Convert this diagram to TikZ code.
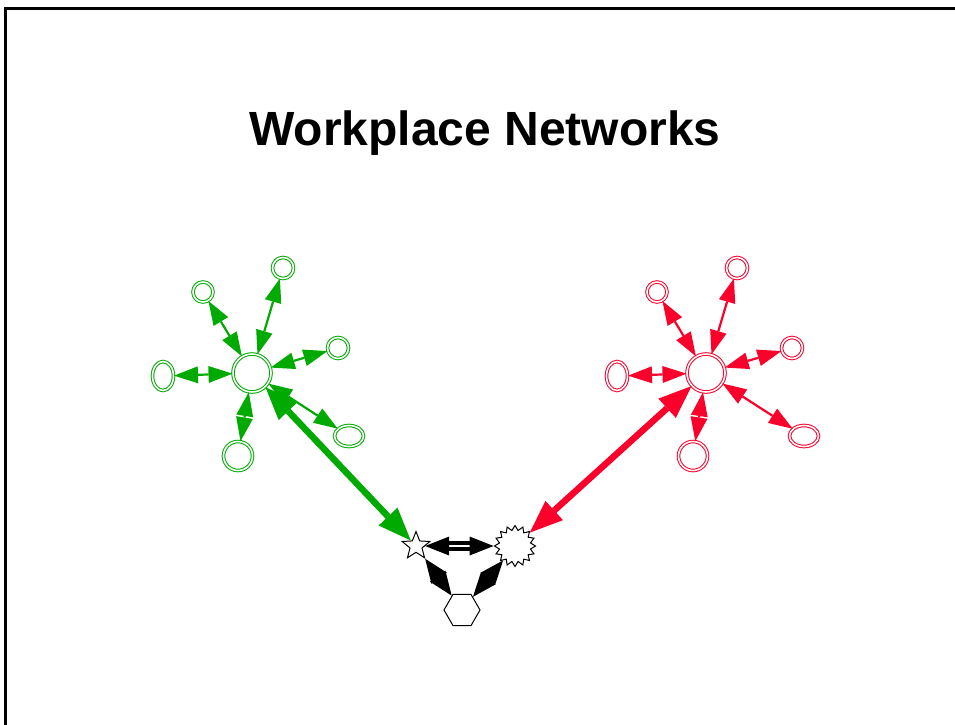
\documentclass[tikz,border=0pt]{standalone}
\usepackage{fontspec}
\newfontfamily\titlefont{Liberation Sans}
\usetikzlibrary{calc,shapes.geometric}
\definecolor{gr}{RGB}{0,170,0}
\definecolor{rd}{RGB}{250,0,42}
\tikzset{
  sat/.style={draw=#1, double=white, double distance=1.6pt, line width=1pt, fill=white, inner sep=0pt},
  satc/.style={sat=#1, circle},
  sate/.style={sat=#1, ellipse},
  blknode/.style={draw=black, line width=1pt, fill=white, inner sep=0pt}
}
% double-headed connector from node #2 to node #3: colour #4, head length #5, head half width #6, line options #1
\newcommand\myedge[6][]{%
  \path (#2) -- coordinate[pos=0] (ea) coordinate[pos=1] (eb) (#3);
  \path let \p1=($(eb)-(ea)$), \n1={min(#5,0.5*veclen(\x1,\y1)+1.5pt)} in
    coordinate (ba) at ($(ea)!\n1!(eb)$)
    coordinate (bb) at ($(eb)!\n1!(ea)$);
  \draw[#4, #1] (ba) -- (bb);
  \fill[#4] (ea) -- ($(ba)!#6!90:(ea)$) -- ($(ba)!#6!-90:(ea)$) -- cycle;
  \fill[#4] (eb) -- ($(bb)!#6!90:(eb)$) -- ($(bb)!#6!-90:(eb)$) -- cycle;
}
\begin{document}
\begin{tikzpicture}[x=1pt,y=-1pt]
\useasboundingbox (0,0) rectangle (955,724);
% frame
\draw[line width=3pt] (5,726) -- (5,8) -- (958,8);
% title
\node[anchor=base, font=\titlefont\bfseries\fontsize{48}{56}\selectfont] (title) at (485,145) {Workplace Networks};

% green cluster
\node[satc=gr, minimum size=38pt] (G0) at (252,373) {};
\node[satc=gr, minimum size=20pt] (G1) at (203,292) {};
\node[satc=gr, minimum size=21pt] (G2) at (283,268) {};
\node[satc=gr, minimum size=21pt] (G3) at (338,348) {};
\node[sate=gr, minimum width=21pt, minimum height=29pt] (G4) at (163,376) {};
\node[sate=gr, minimum width=29pt, minimum height=21pt] (G5) at (349,436) {};
\node[satc=gr, minimum size=29pt] (G6) at (238,456) {};

% red cluster
\node[satc=rd, minimum size=38pt] (R0) at (706,373) {};
\node[satc=rd, minimum size=20pt] (R1) at (657,292) {};
\node[satc=rd, minimum size=21pt] (R2) at (737,268) {};
\node[satc=rd, minimum size=21pt] (R3) at (792,348) {};
\node[sate=rd, minimum width=21pt, minimum height=29pt] (R4) at (617,376) {};
\node[sate=rd, minimum width=29pt, minimum height=21pt] (R5) at (804,436) {};
\node[satc=rd, minimum size=29pt] (R6) at (693,456) {};

% bottom triangle
\node[blknode, star, star points=5, star point ratio=2.3, minimum size=29pt] (S) at (416,546) {};
\node[blknode, star, star points=16, star point ratio=1.3, minimum size=41pt] (B) at (515,546) {};
\node[blknode, regular polygon, regular polygon sides=6, minimum size=36pt] (H) at (462,610) {};

% green and red edges
\foreach \n in {1,...,6} {
  \myedge[line width=2.2pt]{G0}{G\n}{gr}{24pt}{8.5pt}
  \myedge[line width=2.2pt]{R0}{R\n}{rd}{24pt}{8.5pt}
}

% thick edges
\myedge[line width=6.5pt]{G0}{S}{gr}{33pt}{13pt}
\myedge[line width=6.5pt]{R0}{B}{rd}{33pt}{13pt}

% black edges (double lines)
\myedge[line width=4pt, double=white, double distance=1.4pt]{S}{B}{black}{24pt}{9.5pt}
\myedge[line width=4pt, double=white, double distance=1.4pt]{S}{H}{black}{24pt}{9.5pt}
\myedge[line width=4pt]{H}{B}{black}{24pt}{9.5pt}
\end{tikzpicture}
\end{document}
